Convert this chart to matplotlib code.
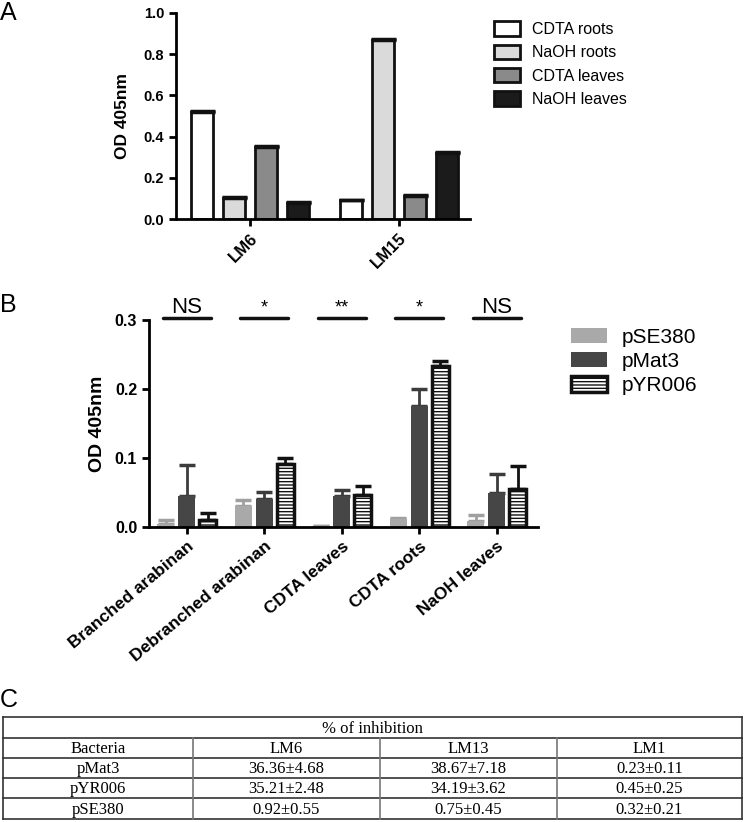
import numpy as np
import matplotlib
matplotlib.use("Agg")
import matplotlib.pyplot as plt
from matplotlib.patches import Patch

plt.rcParams['font.family'] = ['Liberation Sans', 'DejaVu Sans']
plt.rcParams['hatch.linewidth'] = 1.0

W, H = 745, 822

# ---- panel A data
a_groups = ['LM6', 'LM15']
a_series = ['CDTA roots', 'NaOH roots', 'CDTA leaves', 'NaOH leaves']
a_values = [[0.52, 0.09],
            [0.10, 0.87],
            [0.35, 0.11],
            [0.08, 0.32]]
a_errors = [[0.005, 0.004],
            [0.005, 0.004],
            [0.005, 0.005],
            [0.004, 0.005]]
a_colors = ['white', '#dadada', '#8a8a8a', '#1b1b1b']

# ---- panel B data
b_groups = ['Branched arabinan', 'Debranched arabinan', 'CDTA leaves',
            'CDTA roots', 'NaOH leaves']
b_series = ['pSE380', 'pMat3', 'pYR006']
b_values = [[0.005, 0.030, 0.001, 0.011, 0.009],
            [0.045, 0.040, 0.045, 0.175, 0.050],
            [0.010, 0.091, 0.047, 0.233, 0.055]]
b_errors = [[0.005, 0.009, 0.000, 0.002, 0.008],
            [0.045, 0.011, 0.009, 0.025, 0.027],
            [0.010, 0.009, 0.012, 0.007, 0.033]]
b_signif = ['NS', '*', '**', '*', 'NS']

# ---- panel C data
c_title = '% of inhibition'
c_header = ['Bacteria', 'LM6', 'LM13', 'LM1']
c_rows = [['pMat3', '36.36\u00b14.68', '38.67\u00b17.18', '0.23\u00b10.11'],
          ['pYR006', '35.21\u00b12.48', '34.19\u00b13.62', '0.45\u00b10.25'],
          ['pSE380', '0.92\u00b10.55', '0.75\u00b10.45', '0.32\u00b10.21']]


def box(l, t, r, b):
    return [l / W, 1 - b / H, (r - l) / W, (b - t) / H]


def style_axis(ax, size):
    for s in ['top', 'right']:
        ax.spines[s].set_visible(False)
    for s in ['left', 'bottom']:
        ax.spines[s].set_linewidth(2)
    ax.tick_params(width=2, length=5, labelsize=size)
    for t in ax.get_yticklabels():
        t.set_fontweight('bold')


fig = plt.figure(figsize=(W / 100, H / 100), dpi=100)

# ================= panel A
axA = fig.add_axes(box(176, 13, 470, 219))
xa = np.arange(len(a_groups))
step_a, width_a = 0.215, 0.148
for i, name in enumerate(a_series):
    pos = xa + (i - 1.5) * step_a
    axA.bar(pos, a_values[i], width_a, color=a_colors[i], edgecolor='#111111',
            linewidth=2, label=name, zorder=2)
    axA.errorbar(pos, a_values[i], yerr=[np.zeros(len(pos)), a_errors[i]],
                 fmt='none', ecolor='#111111', elinewidth=2, capsize=9,
                 capthick=2.5, zorder=3)
axA.set_xlim(-0.497, 1.477)
axA.set_ylim(0, 1.0)
axA.set_yticks([0.0, 0.2, 0.4, 0.6, 0.8, 1.0])
axA.set_yticklabels(['0.0', '0.2', '0.4', '0.6', '0.8', '1.0'])
axA.set_xticks(xa)
axA.set_xticklabels(a_groups, rotation=45, ha='right', va='top',
                    rotation_mode='anchor', fontweight='bold')
axA.set_ylabel('OD 405nm', fontsize=12.5, fontweight='bold', labelpad=10)
style_axis(axA, 10.5)
for t in axA.get_xticklabels():
    t.set_fontsize(12)
axA.legend(loc='upper left', bbox_to_anchor=(480 / W, 1 - 7 / H),
           bbox_transform=fig.transFigure, frameon=False, fontsize=11.5,
           handlelength=1.6, handleheight=1.0, labelspacing=0.48,
           handletextpad=0.75)

# ================= panel B
axB = fig.add_axes(box(149, 320, 538, 527))
xb = np.arange(len(b_groups))
step_b, width_b = 0.271, 0.22
b_face = ['#a9a9a9', '#464646', 'white']
b_edge = ['#a9a9a9', '#464646', '#111111']
b_lw = [0, 0, 2.5]
b_hatch = [None, None, '-----']
b_ecol = ['#a0a0a0', '#3c3c3c', '#111111']
handles = []
for i, name in enumerate(b_series):
    pos = xb + (i - 1) * step_b
    axB.bar(pos, b_values[i], width_b, color=b_face[i], edgecolor=b_edge[i],
            linewidth=b_lw[i], hatch=b_hatch[i], zorder=2)
    axB.errorbar(pos, b_values[i], yerr=[np.zeros(len(pos)), b_errors[i]],
                 fmt='none', ecolor=b_ecol[i], elinewidth=2, capsize=6,
                 capthick=2.5, zorder=1)
    handles.append(Patch(facecolor=b_face[i], edgecolor=b_edge[i],
                         linewidth=b_lw[i], hatch=b_hatch[i], label=name))
axB.set_xlim(-0.49, 4.53)
axB.set_ylim(0, 0.3)
axB.set_yticks([0.0, 0.1, 0.2, 0.3])
axB.set_yticklabels(['0.0', '0.1', '0.2', '0.3'])
axB.set_xticks(xb)
axB.set_xticklabels(b_groups, rotation=40, ha='right', va='top',
                    rotation_mode='anchor', fontweight='bold')
axB.set_ylabel('OD 405nm', fontsize=14, fontweight='bold', labelpad=6)
style_axis(axB, 11.5)
for t in axB.get_xticklabels():
    t.set_fontsize(12.5)
for g, lab in zip(xb, b_signif):
    axB.plot([g - 0.31, g + 0.31], [0.3035, 0.3035], color='#111111', lw=2.5,
             clip_on=False, solid_capstyle='round')
    axB.text(g, 0.3025 if lab == 'NS' else 0.3045, lab, ha='center',
             va='bottom', fontsize=16 if lab == 'NS' else 13)
fig.legend(handles=handles, loc='upper left',
           bbox_to_anchor=(552 / W, 1 - 309 / H), frameon=False,
           fontsize=15, handlelength=1.75, handleheight=0.75,
           labelspacing=0.25, handletextpad=0.7)

# ================= panel labels
fig.text(0 / W, 1 - 1 / H, 'A', fontsize=18, va='top', ha='left')
fig.text(0 / W, 1 - 293 / H, 'B', fontsize=18, va='top', ha='left')
fig.text(0 / W, 1 - 688 / H, 'C', fontsize=18, va='top', ha='left')

# ================= panel C table
axC = fig.add_axes([0, 0, 1, 1])
axC.set_xlim(0, W)
axC.set_ylim(H, 0)
axC.axis('off')
col_edges = [3, 193, 380, 557, 742]
row_edges = [717, 738, 758, 778, 798, 819]
lc = '#333333'
for y in row_edges:
    axC.plot([col_edges[0], col_edges[-1]], [y, y], color=lc, lw=1.2)
for x in [col_edges[0], col_edges[-1]]:
    axC.plot([x, x], [row_edges[0], row_edges[-1]], color=lc, lw=1.2)
for x in col_edges[1:-1]:
    axC.plot([x, x], [row_edges[1], row_edges[-1]], color='#777777', lw=1.2)
tfont = dict(family=['Liberation Serif', 'DejaVu Serif'], fontsize=12,
             ha='center', va='center')
axC.text((col_edges[0] + col_edges[-1]) / 2,
         (row_edges[0] + row_edges[1]) / 2 + 1, c_title, **tfont)
for r, row in enumerate([c_header] + c_rows):
    yc = (row_edges[r + 1] + row_edges[r + 2]) / 2 + 1
    for c, val in enumerate(row):
        axC.text((col_edges[c] + col_edges[c + 1]) / 2, yc, val, **tfont)

fig.savefig('out.png', dpi=100)
